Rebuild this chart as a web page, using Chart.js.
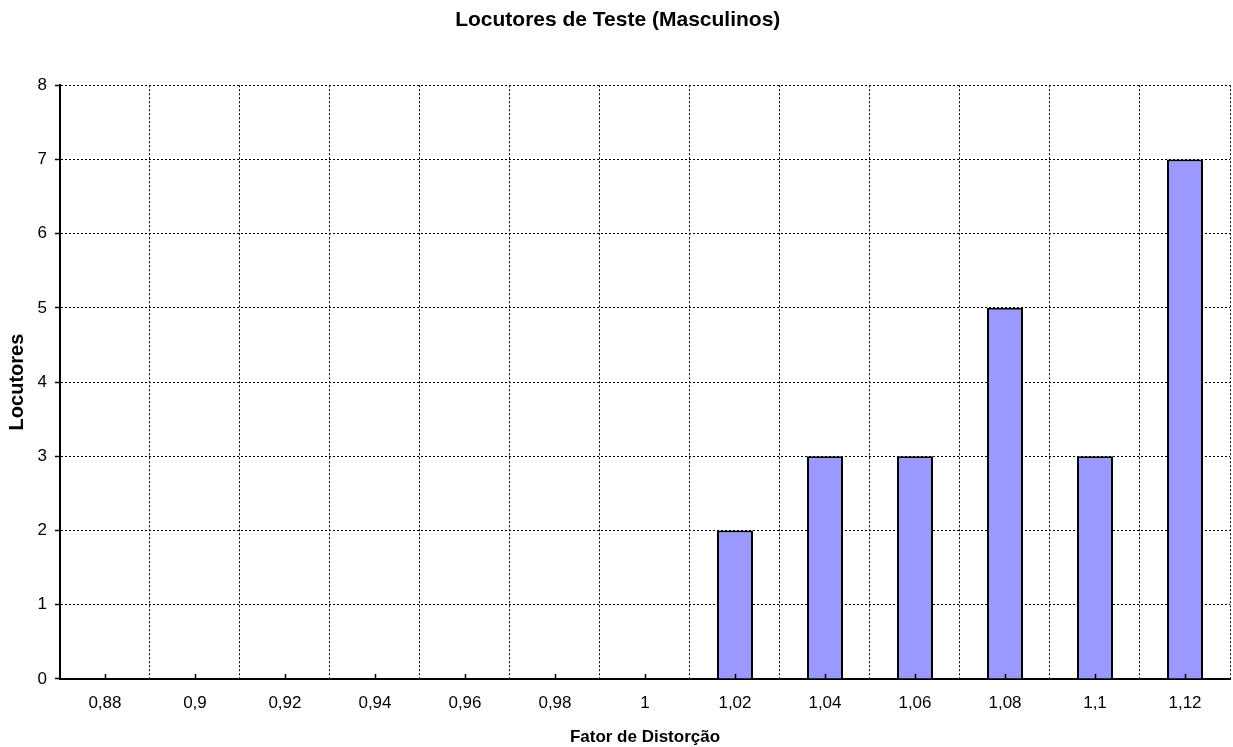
<!DOCTYPE html>
<html>
<head>
<meta charset="utf-8">
<script src="https://cdn.jsdelivr.net/npm/chart.js@4/dist/chart.umd.min.js"></script>
<style>
  body { margin: 0; background: #fff; }
  #wrap { width: 1233px; height: 747px; }
</style>
</head>
<body>
<div id="wrap"><canvas id="myChart" width="1233" height="747"></canvas></div>
<script>
// chart values
const categories = ["0,88", "0,9", "0,92", "0,94", "0,96", "0,98", "1", "1,02", "1,04", "1,06", "1,08", "1,1", "1,12"];
const locutores = [0, 0, 0, 0, 0, 0, 0, 2, 3, 3, 5, 3, 7];
const yTicks = [0, 1, 2, 3, 4, 5, 6, 7, 8];

const fontFamily = "'Liberation Sans', Arial, sans-serif";

// small tick marks at the category centres, pointing into the plot
const centerTicks = {
  id: "centerTicks",
  afterDatasetsDraw(chart) {
    const x = chart.scales.x;
    const ctx = chart.ctx;
    ctx.save();
    ctx.strokeStyle = "#000";
    ctx.lineWidth = 1.5;
    categories.forEach((c, i) => {
      let px = Math.round(x.getPixelForTick(i)) + 0.5;
      ctx.beginPath();
      ctx.moveTo(px, x.top);
      ctx.lineTo(px, x.top - 5);
      ctx.stroke();
    });
    ctx.restore();
  },
};

const data = {
  labels: categories,
  datasets: [
    {
      label: "Locutores",
      data: locutores,
      backgroundColor: "#9999FF",
      borderColor: "#000",
      borderWidth: 2,
      barPercentage: 0.4,
      categoryPercentage: 1,
    },
  ],
};

const config = {
  type: "bar",
  data: data,
  plugins: [centerTicks],
  options: {
    responsive: false,
    animation: false,
    layout: { padding: { left: 5.5, right: 3, top: 0, bottom: 0 } },
    plugins: {
      legend: { display: false },
      tooltip: { enabled: false },
      title: {
        display: true,
        text: "Locutores de Teste (Masculinos)",
        color: "#000",
        font: { family: fontFamily, size: 21, weight: "bold" },
        padding: { top: 8, bottom: 52 },
      },
    },
    scales: {
      x: {
        grid: {
          offset: true,
          color: "#000",
          lineWidth: 1,
          drawTicks: false,
        },
        border: { display: true, color: "#000", width: 2, dash: [2, 2] },
        ticks: {
          color: "#000",
          padding: 14.5,
          font: { family: fontFamily, size: 17 },
        },
        title: {
          display: true,
          text: "Fator de Distorção",
          color: "#000",
          font: { family: fontFamily, size: 17, weight: "bold", lineHeight: 1.1 },
          padding: { top: 0, bottom: 0 },
        },
      },
      y: {
        min: 0,
        max: 8,
        afterBuildTicks: (axis) => {
          axis.ticks = yTicks.map((v) => ({ value: v }));
        },
        grid: {
          color: "#000",
          lineWidth: 1,
          tickLength: 5,
          tickBorderDash: [],
          tickWidth: 1.5,
        },
        border: { display: true, color: "#000", width: 2, dash: [2, 2] },
        ticks: {
          color: "#000",
          padding: 8,
          font: { family: fontFamily, size: 17 },
        },
        title: {
          display: true,
          text: "Locutores",
          color: "#000",
          font: { family: fontFamily, size: 20, weight: "bold" },
          padding: { top: 0, bottom: 0 },
        },
      },
    },
  },
};

const myChart = new Chart(document.getElementById("myChart"), config);
</script>
</body>
</html>
